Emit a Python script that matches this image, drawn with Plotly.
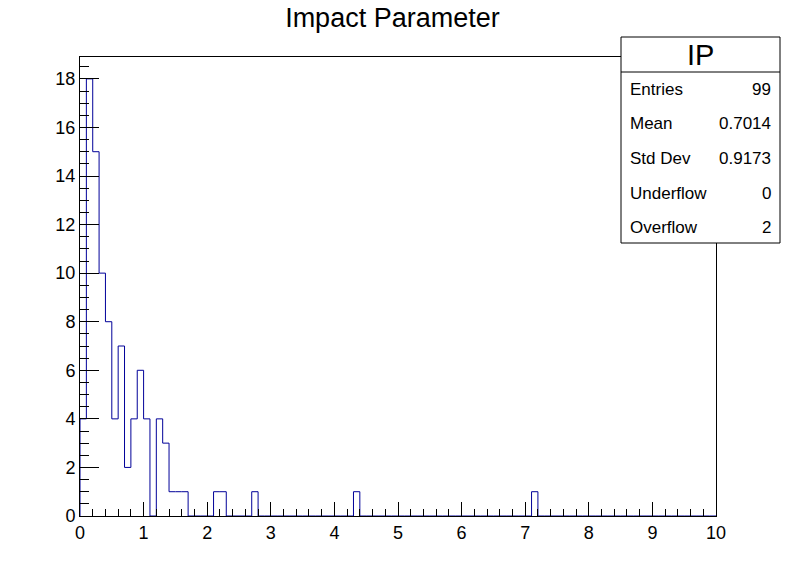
import numpy as np
import plotly.graph_objects as go

# Histogram "IP": 100 bins from 0 to 10
nbins = 100
xmin, xmax = 0.0, 10.0
# non-empty bins: index -> count
bin_index = [0, 1, 2, 3, 4, 5, 6, 7, 8, 9, 10, 12, 13, 14, 15, 16, 21, 22, 27, 43, 71]
bin_count = [4, 18, 15, 10, 8, 4, 7, 2, 4, 6, 4, 4, 3, 1, 1, 1, 1, 1, 1, 1, 1]

stat_labels = ["Entries", "Mean", "Std Dev", "Underflow", "Overflow"]
stat_values = ["99", "0.7014", "0.9173", "0", "2"]

counts = np.zeros(nbins)
for i, c in zip(bin_index, bin_count):
    counts[i] = c
edges = np.linspace(xmin, xmax, nbins + 1)

xs = [edges[0]] + list(edges)
ys = [0.0] + list(counts) + [0.0]

W, H = 796, 572
L, R, T, B = 80, 80, 57, 56
pw, ph = W - L - R, H - T - B

def px2x(px):
    return (px - L) / pw

def py2y(py):
    return (H - B - py) / ph

FONT = "Liberation Sans, Arial, Helvetica, sans-serif"

fig = go.Figure()
fig.add_trace(go.Scatter(x=xs, y=ys, mode="lines", line=dict(color="#000099", width=1, shape="hv"),
                         hoverinfo="skip", showlegend=False))

fig.update_layout(
    width=W, height=H,
    margin=dict(l=L, r=R, t=T, b=B),
    paper_bgcolor="white", plot_bgcolor="white",
    font=dict(family=FONT, color="black", size=18),
    title=dict(text="Impact Parameter", x=0.493, xanchor="center", y=1 - 18 / H, yanchor="middle",
               font=dict(size=27, family=FONT)),
    showlegend=False,
)
fig.update_xaxes(range=[xmin, xmax], showgrid=False, zeroline=False, showline=True, linecolor="black",
                 linewidth=1, mirror=True, ticks="inside", ticklen=14, tickcolor="black", tickwidth=1,
                 dtick=1, tick0=0, tickfont=dict(size=18, family=FONT),
                 minor=dict(dtick=0.2, ticklen=7, ticks="inside", tickcolor="black", tickwidth=1))
fig.update_yaxes(range=[0, 18.9], showgrid=False, zeroline=False, showline=True, linecolor="black",
                 linewidth=1, mirror=True, ticks="inside", ticklen=19, tickcolor="black", tickwidth=1,
                 dtick=2, tick0=0, tickfont=dict(size=18, family=FONT),
                 minor=dict(dtick=0.5, ticklen=9, ticks="inside", tickcolor="black", tickwidth=1))

# Stats box
bx0, bx1 = px2x(621), px2x(780)
by0, by1 = py2y(243), py2y(37)
fig.add_shape(type="rect", xref="paper", yref="paper", x0=bx0, x1=bx1, y0=by0, y1=by1,
              line=dict(color="black", width=1), fillcolor="white", layer="above")
fig.add_shape(type="line", xref="paper", yref="paper", x0=bx0, x1=bx1, y0=py2y(72), y1=py2y(72),
              line=dict(color="black", width=1), layer="above")
fig.add_annotation(xref="paper", yref="paper", x=(bx0 + bx1) / 2, y=py2y(55), text="IP",
                   showarrow=False, xanchor="center", yanchor="middle", font=dict(size=29, family=FONT))
row_y = [90, 124, 158, 193, 227]
for lab, val, ry in zip(stat_labels, stat_values, row_y):
    fig.add_annotation(xref="paper", yref="paper", x=px2x(628), y=py2y(ry), text=lab, showarrow=False,
                       xanchor="left", yanchor="middle", font=dict(size=17, family=FONT))
    fig.add_annotation(xref="paper", yref="paper", x=px2x(773), y=py2y(ry), text=val, showarrow=False,
                       xanchor="right", yanchor="middle", font=dict(size=17, family=FONT))

fig.write_html("out.html")
